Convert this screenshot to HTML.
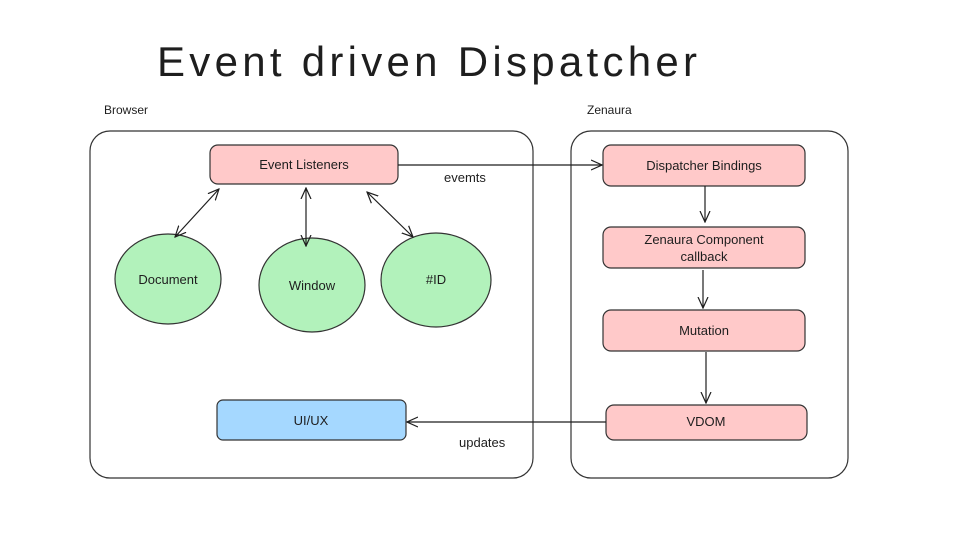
<!DOCTYPE html>
<html><head><meta charset="utf-8"><style>
html,body{margin:0;padding:0;background:#fff;}
svg{display:block;}
text{font-family:"Liberation Sans",sans-serif;fill:#1e1e1e;}
</style></head><body>
<svg width="967" height="540" viewBox="0 0 967 540" xmlns="http://www.w3.org/2000/svg">
<defs>
<marker id="a" viewBox="0 0 12 12" refX="11" refY="6" markerWidth="12" markerHeight="12" markerUnits="userSpaceOnUse" orient="auto-start-reverse">
<path d="M0,1 L11,6 L0,11" fill="none" stroke="#1e1e1e" stroke-width="1.2"/>
</marker>
</defs>
<text x="157" y="76" font-size="42" textLength="540" lengthAdjust="spacing">Event driven Dispatcher</text>
<text x="104" y="114" font-size="12">Browser</text>
<text x="587" y="114" font-size="12">Zenaura</text>
<rect x="90" y="131" width="443" height="347" rx="20" fill="none" stroke="#333" stroke-width="1.2"/>
<rect x="571" y="131" width="277" height="347" rx="20" fill="none" stroke="#333" stroke-width="1.2"/>
<g stroke="#333" stroke-width="1.2">
<rect x="210" y="145" width="188" height="39" rx="8" fill="#ffc9c9"/>
<ellipse cx="168" cy="279" rx="53" ry="45" fill="#b2f2bb"/>
<ellipse cx="312" cy="285" rx="53" ry="47" fill="#b2f2bb"/>
<ellipse cx="436" cy="280" rx="55" ry="47" fill="#b2f2bb"/>
<rect x="217" y="400" width="189" height="40" rx="6" fill="#a5d8ff"/>
<rect x="603" y="145" width="202" height="41" rx="8" fill="#ffc9c9"/>
<rect x="603" y="227" width="202" height="41" rx="8" fill="#ffc9c9"/>
<rect x="603" y="310" width="202" height="41" rx="8" fill="#ffc9c9"/>
<rect x="606" y="405" width="201" height="35" rx="8" fill="#ffc9c9"/>
</g>
<g stroke="#1e1e1e" stroke-width="1.2" fill="none">
<line x1="398" y1="165" x2="602" y2="165" marker-end="url(#a)"/>
<line x1="606" y1="422" x2="407" y2="422" marker-end="url(#a)"/>
<line x1="219" y1="189" x2="175" y2="237" marker-start="url(#a)" marker-end="url(#a)"/>
<line x1="306" y1="188" x2="306" y2="246" marker-start="url(#a)" marker-end="url(#a)"/>
<line x1="367" y1="192" x2="413" y2="237" marker-start="url(#a)" marker-end="url(#a)"/>
<line x1="705" y1="186" x2="705" y2="222" marker-end="url(#a)"/>
<line x1="703" y1="270" x2="703" y2="308" marker-end="url(#a)"/>
<line x1="706" y1="352" x2="706" y2="403" marker-end="url(#a)"/>
</g>
<g font-size="13" text-anchor="middle">
<text x="304" y="169">Event Listeners</text>
<text x="168" y="284">Document</text>
<text x="312" y="290">Window</text>
<text x="436" y="284">#ID</text>
<text x="311" y="425">UI/UX</text>
<text x="704" y="170">Dispatcher Bindings</text>
<text x="704" y="244">Zenaura Component</text>
<text x="704" y="261">callback</text>
<text x="704" y="335">Mutation</text>
<text x="706" y="426">VDOM</text>
</g>
<text x="444" y="182" font-size="13">evemts</text>
<text x="459" y="447" font-size="13">updates</text>
</svg>
</body></html>
